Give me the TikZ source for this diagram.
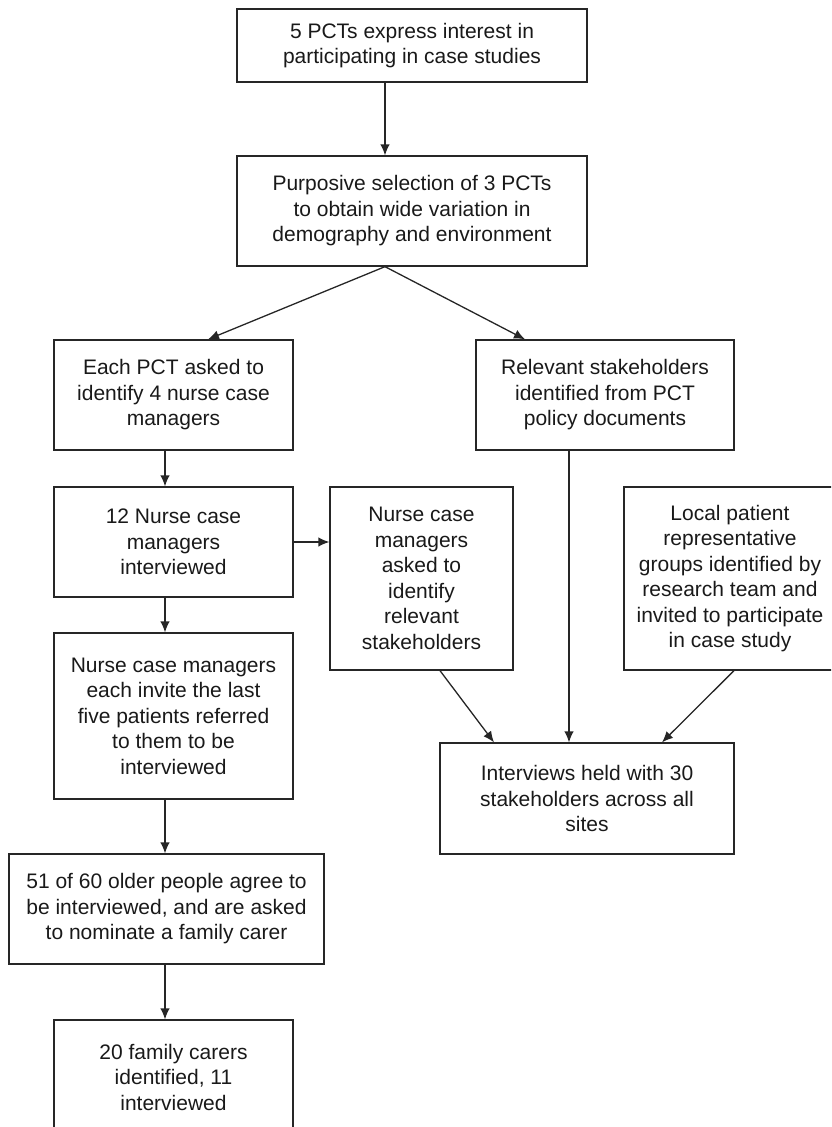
\documentclass[tikz,border=0pt]{standalone}
\usepackage{fontspec}
\setmainfont{Liberation Sans}
\usetikzlibrary{positioning, arrows.meta}

\tikzset{
  stage/.style={draw=black!85, line width=1.3pt, align=center, inner sep=0pt,
    font=\fontsize{21}{25.5}\selectfont, text=black!90},
  flow/.style={line width=1.3pt, color=black!85}
}

\begin{document}
\begin{tikzpicture}[>={Latex[length=11pt,width=9.5pt]}, on grid, auto]

   \useasboundingbox (0,0) rectangle (831pt,-1127pt);
   \clip (0,0) rectangle (831pt,-1127pt);

   \node[stage,minimum width=350pt,minimum height=73pt] (s_1) at (412pt,-45.5pt)
      {5 PCTs express interest in\\participating in case studies};
   \node[stage,minimum width=350pt,minimum height=110pt] (s_2) [below=165.5pt of s_1]
      {Purposive selection of 3 PCTs\\to obtain wide variation in\\demography and environment};
   \node[stage,minimum width=239pt,minimum height=110pt] (s_3) [below left=184pt and 238.5pt of s_2]
      {Each PCT asked to\\identify 4 nurse case\\managers};
   \node[stage,minimum width=258pt,minimum height=110pt] (s_4) [right=431.5pt of s_3]
      {Relevant stakeholders\\identified from PCT\\policy documents};
   \node[stage,minimum width=239pt,minimum height=110pt] (s_5) [below=147pt of s_3]
      {12 Nurse case\\managers\\interviewed};
   \node[stage,minimum width=183pt,minimum height=183pt] (s_6) [below right=36.5pt and 248pt of s_5]
      {Nurse case\\managers\\asked to\\identify\\relevant\\stakeholders};
   \node[stage,minimum width=212pt,minimum height=183pt] (s_7) [right=308.5pt of s_6]
      {Local patient\\representative\\groups identified by\\research team and\\invited to participate\\in case study};
   \node[stage,minimum width=239pt,minimum height=166pt] (s_8) [below=174pt of s_5]
      {Nurse case managers\\each invite the last\\five patients referred\\to them to be\\interviewed};
   \node[stage,minimum width=294pt,minimum height=111pt] (s_9) [below left=403.5pt and 18pt of s_4]
      {Interviews held with 30\\stakeholders across all\\sites};
   \node[stage,minimum width=315pt,minimum height=110pt] (s_10) [below left=193pt and 7pt of s_8]
      {51 of 60 older people agree to\\be interviewed, and are asked\\to nominate a family carer};
   \node[stage,minimum width=239pt,minimum height=114pt] (s_11) [below right=168pt and 7pt of s_10]
      {20 family carers\\identified, 11\\interviewed};

   \path[->,flow]
   ([xshift=-27pt]s_1.south) edge ([xshift=-27pt]s_2.north)
   ([xshift=-27pt]s_2.south) edge ([xshift=34.5pt]s_3.north)
                             edge ([xshift=-80pt]s_4.north)
   ([xshift=-8.5pt]s_3.south) edge ([xshift=-8.5pt]s_5.north)
   (s_5.east) edge (s_5.east -| s_6.west)
   ([xshift=-8.5pt]s_5.south) edge ([xshift=-8.5pt]s_8.north)
   ([xshift=-36pt]s_4.south) edge ([xshift=-36pt]s_4.south |- s_9.north)
   ([xshift=18.5pt]s_6.south) edge ([xshift=-93pt]s_9.north)
   ([xshift=4pt]s_7.south) edge ([xshift=75pt]s_9.north)
   ([xshift=-8.5pt]s_8.south) edge ([xshift=-1.5pt]s_10.north)
   ([xshift=-1.5pt]s_10.south) edge ([xshift=-8.5pt]s_11.north);

\end{tikzpicture}
\end{document}
